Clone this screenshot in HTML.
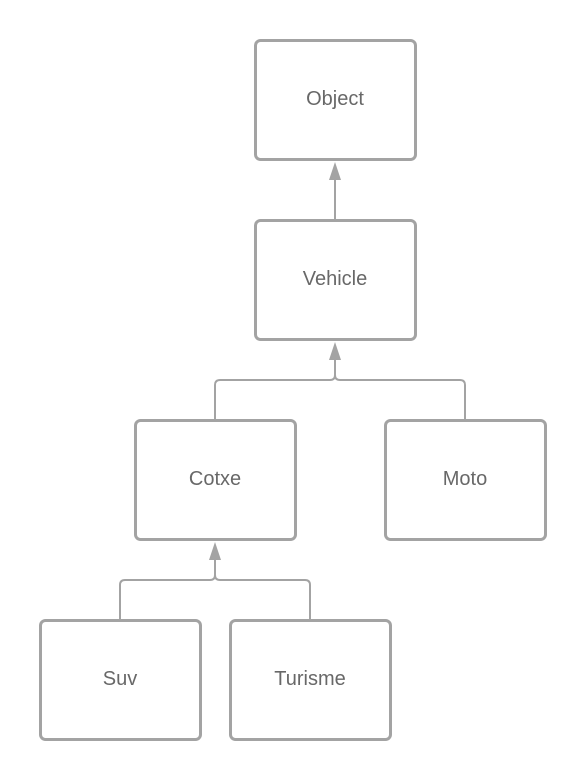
<!DOCTYPE html>
<html><head><style>
html,body{margin:0;padding:0;background:#fff;}
svg{display:block;}
text{font-family:"Liberation Sans",Arial,sans-serif;font-size:20px;fill:#686868;text-anchor:middle;dominant-baseline:central;}
</style></head><body>
<svg width="585" height="780" viewBox="0 0 585 780">
<g fill="none" stroke="#a3a3a3" stroke-width="3">
<rect x="255.5" y="40.5" width="160" height="119" rx="5"/>
<rect x="255.5" y="220.5" width="160" height="119" rx="5"/>
<rect x="135.5" y="420.5" width="160" height="119" rx="5"/>
<rect x="385.5" y="420.5" width="160" height="119" rx="5"/>
<rect x="40.5" y="620.5" width="160" height="119" rx="5"/>
<rect x="230.5" y="620.5" width="160" height="119" rx="5"/>
</g>
<g fill="none" stroke="#a3a3a3" stroke-width="2">
<path d="M335 219 V178"/>
<path d="M215 419 V385 Q215 380 220 380 H330 Q335 380 335 375 V358"/>
<path d="M465 419 V385 Q465 380 460 380 H340 Q335 380 335 375"/>
<path d="M120 619 V585 Q120 580 125 580 H210 Q215 580 215 575 V558"/>
<path d="M310 619 V585 Q310 580 305 580 H220 Q215 580 215 575"/>
</g>
<g fill="#a3a3a3">
<path d="M335 162 L341 180 L329 180 Z"/>
<path d="M335 342 L341 360 L329 360 Z"/>
<path d="M215 542 L221 560 L209 560 Z"/>
</g>
<text x="335" y="99">Object</text>
<text x="335" y="279">Vehicle</text>
<text x="215" y="479">Cotxe</text>
<text x="465" y="479">Moto</text>
<text x="120" y="679">Suv</text>
<text x="310" y="679">Turisme</text>
</svg>
</body></html>
